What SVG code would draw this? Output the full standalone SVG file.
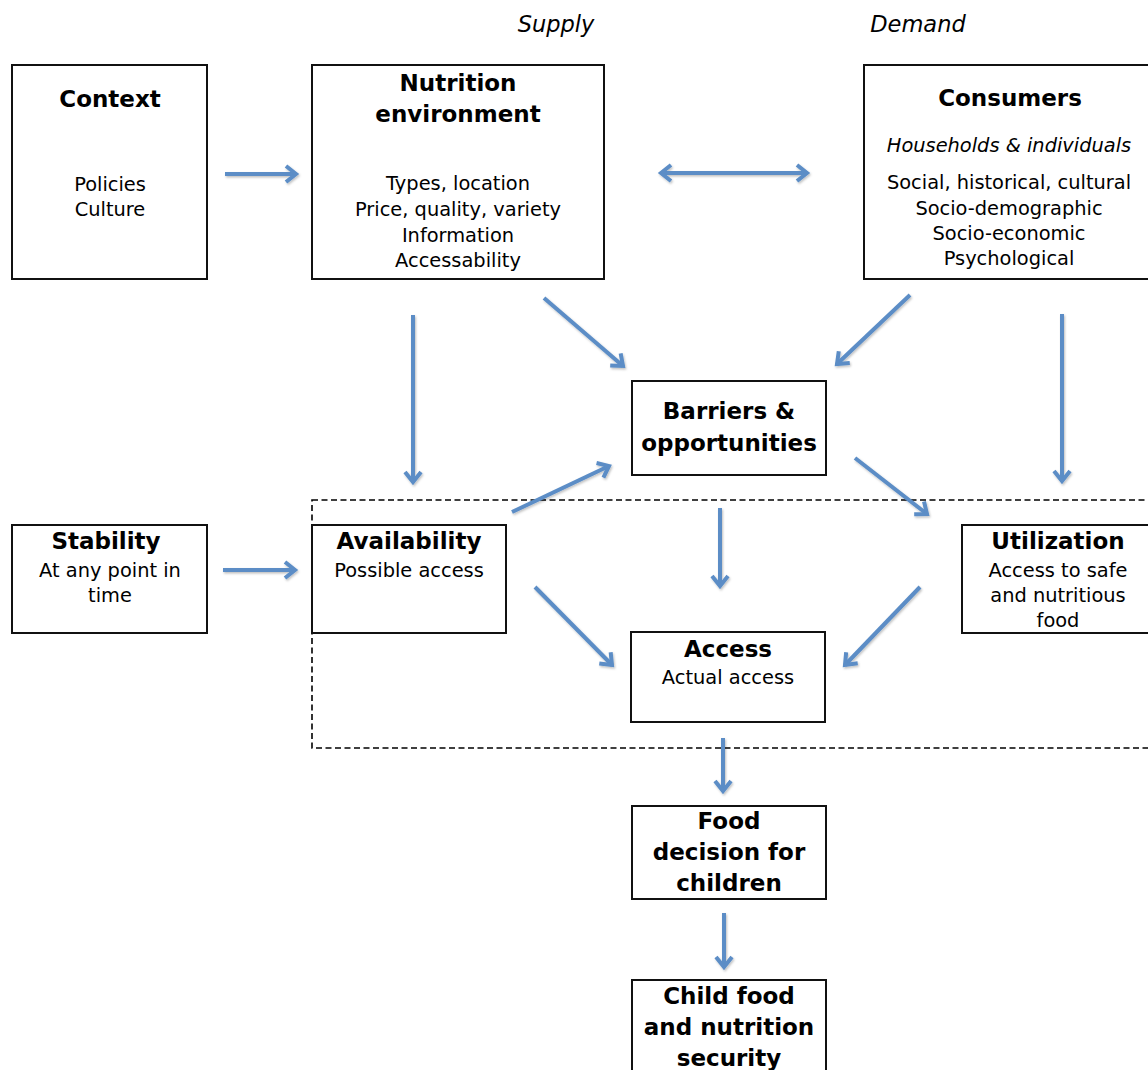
<svg xmlns="http://www.w3.org/2000/svg" width="1148" height="1070" viewBox="0 0 1148 1070">
<defs>
<style>
.box{fill:#fff;stroke:#111;stroke-width:2}
.dash{fill:none;stroke:#000;stroke-width:1.6;stroke-dasharray:6 3.5}
text{font-family:"DejaVu Sans",Verdana,sans-serif;fill:#000;text-anchor:middle}
.h{font-weight:bold;font-size:23px}
.t{font-size:19.4px}
.i{font-style:italic;font-size:19.4px}
.top{font-style:italic;font-size:22.5px}
.arr{fill:none;stroke:#5b8dc6;stroke-width:4;marker-end:url(#ah)}
.arr2{fill:none;stroke:#5b8dc6;stroke-width:4;marker-end:url(#ah);marker-start:url(#ah)}
</style>
<marker id="ah" viewBox="0 0 12 18" refX="10.5" refY="9" markerWidth="12" markerHeight="18" markerUnits="userSpaceOnUse" orient="auto-start-reverse" overflow="visible">
<path d="M0.5,1 L10.5,9 L0.5,17" fill="none" stroke="#5b8dc6" stroke-width="4" stroke-linejoin="miter"/>
</marker>
<filter id="sh" x="-20%" y="-20%" width="140%" height="140%">
<feDropShadow dx="1" dy="1.5" stdDeviation="1" flood-color="#000" flood-opacity="0.25"/>
</filter>
</defs>
<rect width="1148" height="1070" fill="#fff"/>
<text class="top" x="556" y="32">Supply</text>
<text class="top" x="918" y="32">Demand</text>
<rect class="dash" x="312" y="500" width="850" height="248"/>
<g id="context">
<rect class="box" x="12" y="65" width="195" height="214"/>
<text class="h" x="110" y="107">Context</text>
<text class="t" x="110" y="191">Policies</text>
<text class="t" x="110" y="216">Culture</text>
</g>
<g id="nutrition">
<rect class="box" x="312" y="65" width="292" height="214"/>
<text class="h" x="458" y="91">Nutrition</text>
<text class="h" x="458" y="122">environment</text>
<text class="t" x="458" y="190">Types, location</text>
<text class="t" x="458" y="216">Price, quality, variety</text>
<text class="t" x="458" y="242">Information</text>
<text class="t" x="458" y="267">Accessability</text>
</g>
<g id="consumers">
<rect class="box" x="864" y="65" width="292" height="214"/>
<text class="h" x="1010" y="106">Consumers</text>
<text class="i" x="1009" y="152">Households &amp; individuals</text>
<text class="t" x="1009" y="189">Social, historical, cultural</text>
<text class="t" x="1009" y="215">Socio-demographic</text>
<text class="t" x="1009" y="240">Socio-economic</text>
<text class="t" x="1009" y="265">Psychological</text>
</g>
<g id="barriers">
<rect class="box" x="632" y="381" width="194" height="94"/>
<text class="h" x="729" y="419">Barriers &amp;</text>
<text class="h" x="729" y="451">opportunities</text>
</g>
<g id="stability">
<rect class="box" x="12" y="525" width="195" height="108"/>
<text class="h" x="106" y="549">Stability</text>
<text class="t" x="110" y="577">At any point in</text>
<text class="t" x="110" y="602">time</text>
</g>
<g id="availability">
<rect class="box" x="312" y="525" width="194" height="108"/>
<text class="h" x="409" y="549">Availability</text>
<text class="t" x="409" y="577">Possible access</text>
</g>
<g id="utilization">
<rect class="box" x="962" y="525" width="194" height="108"/>
<text class="h" x="1058" y="549">Utilization</text>
<text class="t" x="1058" y="577">Access to safe</text>
<text class="t" x="1058" y="602">and nutritious</text>
<text class="t" x="1058" y="627">food</text>
</g>
<g id="access">
<rect class="box" x="631" y="632" width="194" height="90"/>
<text class="h" x="728" y="657">Access</text>
<text class="t" x="728" y="684">Actual access</text>
</g>
<g id="food-decision">
<rect class="box" x="632" y="806" width="194" height="93"/>
<text class="h" x="729" y="829">Food</text>
<text class="h" x="729" y="860">decision for</text>
<text class="h" x="729" y="891">children</text>
</g>
<g id="child-security">
<rect class="box" x="632" y="980" width="194" height="100"/>
<text class="h" x="729" y="1004">Child food</text>
<text class="h" x="729" y="1035">and nutrition</text>
<text class="h" x="729" y="1066">security</text>
</g>
<g id="connectors" filter="url(#sh)">
<line class="arr" x1="225" y1="174" x2="296" y2="174"/>
<line class="arr2" x1="661" y1="173" x2="807" y2="173"/>
<line class="arr" x1="413" y1="315" x2="413" y2="482"/>
<line class="arr" x1="544" y1="298" x2="623" y2="366"/>
<line class="arr" x1="910" y1="295" x2="837" y2="364"/>
<line class="arr" x1="1062" y1="314" x2="1062" y2="481"/>
<line class="arr" x1="512" y1="512" x2="609" y2="466"/>
<line class="arr" x1="855" y1="458" x2="927" y2="514"/>
<line class="arr" x1="720" y1="508" x2="720" y2="586"/>
<line class="arr" x1="223" y1="570" x2="295" y2="570"/>
<line class="arr" x1="535" y1="587" x2="612" y2="665"/>
<line class="arr" x1="920" y1="587" x2="845" y2="665"/>
<line class="arr" x1="723" y1="738" x2="723" y2="791"/>
<line class="arr" x1="724" y1="913" x2="724" y2="967"/>
</g>
</svg>
